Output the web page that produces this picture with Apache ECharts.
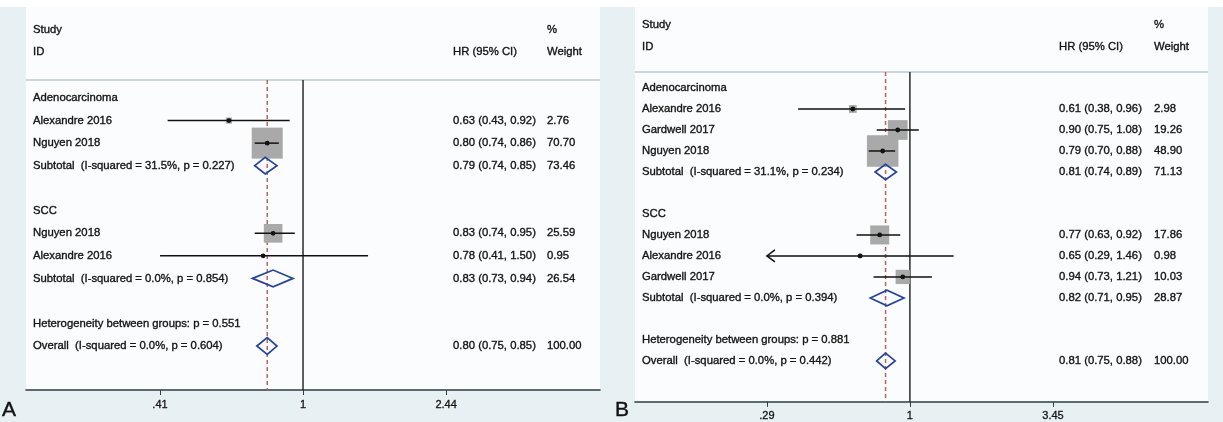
<!DOCTYPE html>
<html>
<head>
<meta charset="utf-8">
<script src="https://cdn.jsdelivr.net/npm/echarts@6/dist/echarts.min.js"></script>
<style>
  html, body { margin: 0; padding: 0; background: #ffffff; }
  #chart { width: 1223px; height: 422px; }
</style>
</head>
<body>
<div id="chart"></div>
<script>
// ---- Panel A: HR by histology, two studies per subgroup ----
const aLabels = [
  'Adenocarcinoma', 'Alexandre 2016', 'Nguyen 2018', 'Subtotal  (I-squared = 31.5%, p = 0.227)', '',
  'SCC', 'Nguyen 2018', 'Alexandre 2016', 'Subtotal  (I-squared = 0.0%, p = 0.854)', '',
  'Heterogeneity between groups: p = 0.551', 'Overall  (I-squared = 0.0%, p = 0.604)'
];
const aKinds  = ['group', 'study', 'study', 'pooled', 'blank', 'group', 'study', 'study', 'pooled', 'blank', 'note', 'overall'];
const aHR     = [null, 0.63, 0.80, 0.79, null, null, 0.83, 0.78, 0.83, null, null, 0.80];
const aLow    = [null, 0.43, 0.74, 0.74, null, null, 0.74, 0.41, 0.73, null, null, 0.75];
const aHigh   = [null, 0.92, 0.86, 0.85, null, null, 0.95, 1.50, 0.94, null, null, 0.85];
const aWeight = [null, 2.76, 70.70, 73.46, null, null, 25.59, 0.95, 26.54, null, null, 100.00];
const aTicks      = [0.41, 1, 2.44];
const aTickLabels = ['.41', '1', '2.44'];

// ---- Panel B: HR by histology, three studies per subgroup ----
const bLabels = [
  'Adenocarcinoma', 'Alexandre 2016', 'Gardwell 2017', 'Nguyen 2018', 'Subtotal  (I-squared = 31.1%, p = 0.234)', '',
  'SCC', 'Nguyen 2018', 'Alexandre 2016', 'Gardwell 2017', 'Subtotal  (I-squared = 0.0%, p = 0.394)', '',
  'Heterogeneity between groups: p = 0.881', 'Overall  (I-squared = 0.0%, p = 0.442)'
];
const bKinds  = ['group', 'study', 'study', 'study', 'pooled', 'blank', 'group', 'study', 'study', 'study', 'pooled', 'blank', 'note', 'overall'];
const bHR     = [null, 0.61, 0.90, 0.79, 0.81, null, null, 0.77, 0.65, 0.94, 0.82, null, null, 0.81];
const bLow    = [null, 0.38, 0.75, 0.70, 0.74, null, null, 0.63, 0.288, 0.73, 0.71, null, null, 0.75];
const bHigh   = [null, 0.96, 1.08, 0.88, 0.89, null, null, 0.92, 1.46, 1.21, 0.95, null, null, 0.88];
const bWeight = [null, 2.98, 19.26, 48.90, 71.13, null, null, 17.86, 0.98, 10.03, 28.87, null, null, 100.00];
const bTicks      = [0.29, 1, 3.45];
const bTickLabels = ['.29', '1', '3.45'];

const FONT_FAMILY = '"Liberation Sans", Arial, Helvetica, sans-serif';
const TEXT_FONT = '11.3px ' + FONT_FAMILY;
const TEXT_COLOR = '#141414';
const TEXT_STROKE = 0.35;
const BG_BLUE = '#e7f0f3';
const PLOT_WHITE = '#fbfcfd';

const panels = [
  {
    labels: aLabels, kinds: aKinds, hr: aHR, low: aLow, high: aHigh, weight: aWeight,
    ticks: aTicks, tickLabels: aTickLabels,
    grid: { left: 26, top: 80, width: 574, height: 310 },
    xRange: [0.1778, 6.37], yRange: [-0.8, 12.95],
    hrCol: 427, wtCol: 521, boxMax: 31
  },
  {
    labels: bLabels, kinds: bKinds, hr: bHR, low: bLow, high: bHigh, weight: bWeight,
    ticks: bTicks, tickLabels: bTickLabels,
    grid: { left: 635, top: 72, width: 573, height: 330 },
    xRange: [0.0926, 13.2], yRange: [-0.762, 14.95],
    hrCol: 424, wtCol: 519, boxMax: 31.5
  }
];

function textStyle(text, x, y) {
  return { text: text, x: x, y: y, align: 'left', verticalAlign: 'middle',
           font: TEXT_FONT, fill: TEXT_COLOR, stroke: TEXT_COLOR, lineWidth: TEXT_STROKE };
}

const grids = [], xAxes = [], yAxes = [], series = [];

panels.forEach(function (p, gi) {
  grids.push(Object.assign({ containLabel: false }, p.grid));

  const lnTicks = p.ticks.map(Math.log);
  xAxes.push({
    type: 'value', gridIndex: gi,
    min: Math.log(p.xRange[0]), max: Math.log(p.xRange[1]),
    splitLine: { show: false },
    axisLine: { show: true, onZero: false, lineStyle: { color: '#2e3d47', width: 1.6 } },
    axisTick: { show: true, customValues: lnTicks, length: 5, inside: false,
                lineStyle: { color: '#2e3d47', width: 1 } },
    axisLabel: {
      show: true, customValues: lnTicks, margin: 9,
      color: '#141414', fontFamily: FONT_FAMILY, fontSize: 11,
      textBorderColor: '#141414', textBorderWidth: 0.3,
      formatter: function (v) {
        for (let k = 0; k < lnTicks.length; k++) {
          if (Math.abs(lnTicks[k] - v) < 1e-6) return p.tickLabels[k];
        }
        return '';
      }
    }
  });
  yAxes.push({
    type: 'value', gridIndex: gi, inverse: true, show: false,
    min: p.yRange[0], max: p.yRange[1]
  });

  const clipMin = p.ticks[0], clipMax = p.ticks[p.ticks.length - 1];
  const maxStudyWeight = Math.max.apply(null, p.weight.filter(function (w, i) { return p.kinds[i] === 'study'; }));
  const overallIdx = p.kinds.indexOf('overall');

  // Reference lines: solid line of no effect, dashed line at the overall estimate
  series.push({
    type: 'custom', xAxisIndex: gi, yAxisIndex: gi, z: 1, silent: true,
    data: [[0, 0, 0], [Math.log(p.hr[overallIdx]), 0, 1]],
    renderItem: function (params, api) {
      const cs = params.coordSys;
      const x = api.coord([api.value(0), 0])[0];
      const dashed = api.value(2) === 1;
      return {
        type: 'line',
        shape: { x1: x, y1: cs.y, x2: x, y2: cs.y + cs.height },
        style: dashed
          ? { stroke: '#c0625c', lineWidth: 1.5, lineDash: [4, 3] }
          : { stroke: '#1c1c1c', lineWidth: 1.4 }
      };
    }
  });

  // One row per study / subtotal / label line
  series.push({
    type: 'custom', xAxisIndex: gi, yAxisIndex: gi, z: 3, silent: true,
    data: p.labels.map(function (_, i) { return [p.hr[i] != null ? Math.log(p.hr[i]) : 0, i]; }),
    renderItem: function (params, api) {
      const i = params.dataIndex;
      const cs = params.coordSys;
      const y = api.coord([0, i])[1];
      const rowPx = api.size([0, 1])[1];
      const kind = p.kinds[i];
      const children = [];

      if (p.labels[i]) {
        children.push({ type: 'text', style: textStyle(p.labels[i], cs.x + 7, y) });
      }
      if (p.hr[i] == null) return { type: 'group', children: children };

      const hr = p.hr[i], lo = p.low[i], hi = p.high[i], w = p.weight[i];
      children.push({ type: 'text',
        style: textStyle(hr.toFixed(2) + ' (' + lo.toFixed(2) + ', ' + hi.toFixed(2) + ')', cs.x + p.hrCol, y) });
      children.push({ type: 'text', style: textStyle(w.toFixed(2), cs.x + p.wtCol, y) });

      const xc = api.coord([Math.log(hr), i])[0];
      if (kind === 'study') {
        const xl = api.coord([Math.log(Math.max(lo, clipMin)), i])[0];
        const xh = api.coord([Math.log(Math.min(hi, clipMax)), i])[0];
        const side = p.boxMax * Math.sqrt(w / maxStudyWeight);
        children.push({
          type: 'rect',
          shape: { x: xc - side / 2, y: y - side / 2, width: side, height: side },
          style: { fill: '#a9a9a9' }
        });
        children.push({
          type: 'line', shape: { x1: xl, y1: y, x2: xh, y2: y },
          style: { stroke: '#111111', lineWidth: 1.5 }
        });
        if (lo < clipMin) {
          children.push({
            type: 'polyline', shape: { points: [[xl + 8, y - 6], [xl, y], [xl + 8, y + 6]] },
            style: { stroke: '#111111', lineWidth: 1.5, fill: null }
          });
        }
        if (hi > clipMax) {
          children.push({
            type: 'polyline', shape: { points: [[xh - 8, y - 6], [xh, y], [xh - 8, y + 6]] },
            style: { stroke: '#111111', lineWidth: 1.5, fill: null }
          });
        }
        children.push({
          type: 'circle', shape: { cx: xc, cy: y, r: 2.4 },
          style: { fill: '#111111' }
        });
      } else {
        const xl = api.coord([Math.log(lo), i])[0];
        const xh = api.coord([Math.log(hi), i])[0];
        const h = rowPx * 0.37;
        children.push({
          type: 'polygon',
          shape: { points: [[xl, y], [xc, y - h], [xh, y], [xc, y + h]] },
          style: { fill: null, stroke: '#2443a0', lineWidth: 1.7 }
        });
      }
      return { type: 'group', children: children };
    }
  });
});

// Panel frames, header rows and panel letters
function headerText(text, x, y) {
  return { type: 'text', x: x, y: y, silent: true,
           style: { text: text, font: TEXT_FONT, fill: TEXT_COLOR, stroke: TEXT_COLOR,
                    lineWidth: TEXT_STROKE, verticalAlign: 'middle' } };
}
const graphics = [
  { type: 'rect', shape: { x: 0, y: 0, width: 1223, height: 422 }, style: { fill: BG_BLUE }, z: -10, silent: true },
  { type: 'rect', shape: { x: 0, y: 0, width: 1223, height: 7 }, style: { fill: '#ffffff' }, z: -9, silent: true },
  { type: 'rect', shape: { x: 26, y: 7, width: 574, height: 383 }, style: { fill: PLOT_WHITE }, z: -9, silent: true },
  { type: 'rect', shape: { x: 635, y: 7, width: 573, height: 395 }, style: { fill: PLOT_WHITE }, z: -9, silent: true },
  { type: 'line', shape: { x1: 26, y1: 80, x2: 600, y2: 80 }, style: { stroke: '#c9d6dc', lineWidth: 2 }, z: -8, silent: true },
  { type: 'line', shape: { x1: 635, y1: 72, x2: 1208, y2: 72 }, style: { stroke: '#c9d6dc', lineWidth: 2 }, z: -8, silent: true },
  headerText('Study', 33, 30), headerText('ID', 33, 52),
  headerText('HR (95% CI)', 453, 52), headerText('%', 547, 30), headerText('Weight', 547, 52),
  headerText('Study', 642, 25), headerText('ID', 642, 47),
  headerText('HR (95% CI)', 1059, 47), headerText('%', 1154, 25), headerText('Weight', 1154, 47),
  { type: 'text', x: 2, y: 400, silent: true,
    style: { text: 'A', font: '21px ' + FONT_FAMILY, fill: '#111111', stroke: '#111111', lineWidth: 0.4 } },
  { type: 'text', x: 615, y: 400, silent: true,
    style: { text: 'B', font: '21px ' + FONT_FAMILY, fill: '#111111', stroke: '#111111', lineWidth: 0.4 } }
];

const chart = echarts.init(document.getElementById('chart'), null, { renderer: 'canvas' });
chart.setOption({
  animation: false,
  backgroundColor: BG_BLUE,
  grid: grids,
  xAxis: xAxes,
  yAxis: yAxes,
  graphic: { elements: graphics },
  series: series
});
</script>
</body>
</html>
